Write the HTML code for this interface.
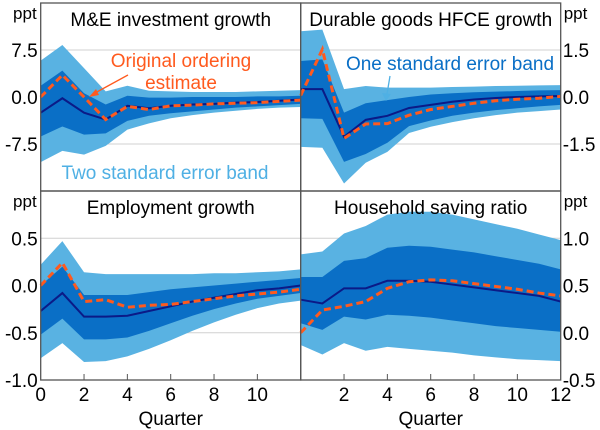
<!DOCTYPE html>
<html><head><meta charset="utf-8">
<style>
html,body{margin:0;padding:0;background:#fff;}
body{position:relative;width:600px;height:430px;overflow:hidden;}
svg{display:block;font-family:"Liberation Sans",Arial,sans-serif;}
</style></head>
<body>
<svg id="c" width="600" height="430" viewBox="0 0 600 430"></svg>
<script>
const quarters=[0,1,2,3,4,5,6,7,8,9,10,11,12];
const xTicks=[0,2,4,6,8,10,12];
const meOuterUp=[5.8,8.3,4.6,0.9,1.8,1.0,0.9,0.8,0.8,0.8,0.9,1.0,1.1];
const meInnerUp=[1.8,4.2,0.6,-1.2,0.2,-0.1,-0.1,0,0,0,0.1,0.1,0.2];
const meCentral=[-2.5,-0.2,-2.5,-3.6,-1.4,-1.8,-1.4,-1.2,-1.1,-0.9,-0.8,-0.6,-0.4];
const meInnerLo=[-6.3,-4.7,-6,-5.8,-3.8,-3.0,-2.6,-2.3,-2.0,-1.7,-1.5,-1.3,-1.1];
const meOuterLo=[-10.4,-8.6,-9.2,-7.8,-5.2,-4.2,-3.4,-2.9,-2.5,-2.2,-1.9,-1.7,-1.6];
const meOrig=[0,3.5,0,-3.6,-1.5,-2,-1.4,-1.3,-1.1,-1,-0.9,-0.7,-0.5];
const dgOuterUp=[2.1,2.15,0.25,0.35,0.3,0.3,0.3,0.32,0.33,0.35,0.36,0.37,0.38];
const dgInnerUp=[1.15,1.2,-0.5,-0.2,-0.1,0,0.08,0.12,0.15,0.17,0.19,0.21,0.22];
const dgCentral=[0.25,0.25,-1.27,-0.73,-0.6,-0.35,-0.25,-0.15,-0.08,-0.03,0,0.02,0.03];
const dgInnerLo=[-0.68,-0.7,-2.07,-1.82,-1.46,-0.93,-0.75,-0.6,-0.5,-0.42,-0.36,-0.3,-0.25];
const dgOuterLo=[-1.59,-1.62,-2.76,-2.1,-1.75,-1.15,-0.95,-0.8,-0.68,-0.58,-0.5,-0.45,-0.4];
const dgOrig=[0.05,1.52,-1.32,-0.86,-0.85,-0.58,-0.4,-0.3,-0.2,-0.12,-0.07,-0.04,0.02];
const emOuterUp=[0.22,0.47,0.14,0.12,0.12,0.12,0.12,0.12,0.13,0.13,0.14,0.15,0.17];
const emInnerUp=[0,0.2,-0.1,-0.1,-0.1,-0.07,-0.04,-0.02,0,0.02,0.04,0.06,0.08];
const emCentral=[-0.27,-0.08,-0.33,-0.33,-0.32,-0.27,-0.22,-0.17,-0.13,-0.09,-0.05,-0.03,0];
const emInnerLo=[-0.52,-0.35,-0.57,-0.57,-0.55,-0.48,-0.4,-0.32,-0.25,-0.19,-0.14,-0.11,-0.08];
const emOuterLo=[-0.77,-0.61,-0.81,-0.8,-0.75,-0.67,-0.58,-0.48,-0.39,-0.31,-0.24,-0.19,-0.16];
const emOrig=[0,0.24,-0.17,-0.15,-0.23,-0.21,-0.2,-0.17,-0.14,-0.11,-0.09,-0.07,-0.04];
const hsOuterUp=[0.83,0.86,1.05,1.13,1.25,1.28,1.28,1.25,1.2,1.15,1.1,1.04,0.98];
const hsInnerUp=[0.59,0.59,0.76,0.79,0.9,0.92,0.91,0.88,0.85,0.81,0.77,0.73,0.67];
const hsCentral=[0.35,0.31,0.47,0.47,0.55,0.55,0.54,0.51,0.48,0.45,0.42,0.39,0.33];
const hsInnerLo=[0.1,0.03,0.17,0.14,0.19,0.18,0.16,0.13,0.1,0.07,0.05,0.03,0.01];
const hsOuterLo=[-0.13,-0.23,-0.11,-0.19,-0.15,-0.17,-0.19,-0.21,-0.24,-0.26,-0.28,-0.29,-0.3];
const hsOrig=[0,0.24,0.28,0.33,0.47,0.54,0.56,0.55,0.52,0.49,0.46,0.42,0.39];
const meTicks=["7.5","0.0","-7.5"], dgTicks=["1.5","0.0","-1.5"];
const emTicks=["0.5","0.0","-0.5","-1.0"], hsTicks=["1.0","0.5","0.0","-0.5"];

const NS="http://www.w3.org/2000/svg";
const svg=document.getElementById('c');
function el(tag,attrs,parent,text){const e=document.createElementNS(NS,tag);for(const k in attrs)e.setAttribute(k,attrs[k]);if(text!==undefined)e.textContent=text;(parent||svg).appendChild(e);return e;}

const panels=[
 {key:'me',title:'M&E investment growth',x0:40.7,x1:300.7,y0:3,y1:191,min:-15,max:15,ticks:meTicks,side:'left',
  d:[meOuterUp,meInnerUp,meCentral,meInnerLo,meOuterLo,meOrig]},
 {key:'dg',title:'Durable goods HFCE growth',x0:300.7,x1:560.7,y0:3,y1:191,min:-3,max:3,ticks:dgTicks,side:'right',
  d:[dgOuterUp,dgInnerUp,dgCentral,dgInnerLo,dgOuterLo,dgOrig]},
 {key:'em',title:'Employment growth',x0:40.7,x1:300.7,y0:191,y1:380,min:-1,max:1,ticks:emTicks,side:'left',
  d:[emOuterUp,emInnerUp,emCentral,emInnerLo,emOuterLo,emOrig]},
 {key:'hs',title:'Household saving ratio',x0:300.7,x1:560.7,y0:191,y1:380,min:-0.5,max:1.5,ticks:hsTicks,side:'right',
  d:[hsOuterUp,hsInnerUp,hsCentral,hsInnerLo,hsOuterLo,hsOrig]}
];

panels.forEach(p=>{
  const g=el('g',{},svg);
  
  
  const X=q=>p.x0+(q/12)*(p.x1-p.x0);
  const Y=v=>p.y1-(v-p.min)/(p.max-p.min)*(p.y1-p.y0);
  p.ticks.forEach(t=>{const v=parseFloat(t);if(v>p.min&&v<p.max){
    const l=el('line',{x1:p.x0,x2:p.x1,y1:Y(v),y2:Y(v),stroke:'#d0d0d0','stroke-width':1},g);
    
    
  }});
  const band=(up,lo,fill,name)=>{
    let pts=quarters.map((q,i)=>X(q)+','+Y(up[i]));
    pts=pts.concat(quarters.slice().reverse().map(q=>X(q)+','+Y(lo[q])));
    const b=el('polygon',{points:pts.join(' '),fill:fill},g);
    
    
  };
  band(p.d[0],p.d[4],'#59b2e2','two-se-band');
  band(p.d[1],p.d[3],'#0a6fc6','one-se-band');
  const c=el('polyline',{points:quarters.map((q,i)=>X(q)+','+Y(p.d[2][i])).join(' '),fill:'none',stroke:'#0b1a87','stroke-width':2},g);
  
  
  const o=el('polyline',{points:quarters.map((q,i)=>X(q)+','+Y(p.d[5][i])).join(' '),fill:'none',stroke:'#ff5a1e','stroke-width':3,'stroke-dasharray':'7,4'},g);
  
  
  const f=el('rect',{x:p.x0,y:p.y0,width:p.x1-p.x0,height:p.y1-p.y0,fill:'none',stroke:'#555','stroke-width':1.3},g);
  
  
  const tt=el('text',{x:(p.x0+p.x1)/2,y:p.y0+23,'text-anchor':'middle','font-size':19,fill:'#000'},g,p.title);
  
  
  p.ticks.forEach(t=>{const v=parseFloat(t);
    const lx=p.side==='left'?p.x0-3:p.x1+2;
    const tl=el('text',{x:lx,y:Y(v)+7,'text-anchor':p.side==='left'?'end':'start','font-size':19,fill:'#000'},g,t);
    
    
  });
  const pu=el('text',{x:p.side==='left'?p.x0-4:p.x1+3,y:p.y0+16,'text-anchor':p.side==='left'?'end':'start','font-size':17,fill:'#000'},g,'ppt');
  
  
  if(p.y1===380){
    xTicks.forEach(q=>{
      if(q>0&&q<12){
        const tk=el('line',{x1:X(q),x2:X(q),y1:p.y1,y2:p.y1-6,stroke:'#555','stroke-width':1},g);
        
        
      }
      if((p.side==='left'&&q<12)||(p.side==='right'&&q>0)){
        const xl=el('text',{x:X(q),y:p.y1+21,'text-anchor':'middle','font-size':19,fill:'#000'},g,String(q));
        
        
      }
    });
    const qt=el('text',{x:(p.x0+p.x1)/2,y:p.y1+45,'text-anchor':'middle','font-size':19,fill:'#000'},g,'Quarter');
    
    
  }
});
</script>
<svg width="600" height="430" style="position:absolute;left:0;top:0">
  <text x="181" y="67" text-anchor="middle" font-size="19" fill="#ff5a1e" font-family="Liberation Sans, sans-serif">Original ordering</text>
  <text x="181" y="89" text-anchor="middle" font-size="19" fill="#ff5a1e" font-family="Liberation Sans, sans-serif">estimate</text>
  <line x1="128" y1="75" x2="95" y2="93" stroke="#ff5a1e" stroke-width="1.3"/>
  <polygon points="89,97 96,89 99,95" fill="#ff5a1e"/>
  <text x="165" y="179" text-anchor="middle" font-size="19" fill="#4fb0e4" font-family="Liberation Sans, sans-serif">Two standard error band</text>
  <text x="450" y="70" text-anchor="middle" font-size="19" fill="#0a6fc6" font-family="Liberation Sans, sans-serif">One standard error band</text>
  <line x1="390" y1="76" x2="387" y2="94" stroke="#4fb0e4" stroke-width="1.3"/>
  <polygon points="382,93 391,94 386,101" fill="#4fb0e4"/>
</svg>
</body></html>
